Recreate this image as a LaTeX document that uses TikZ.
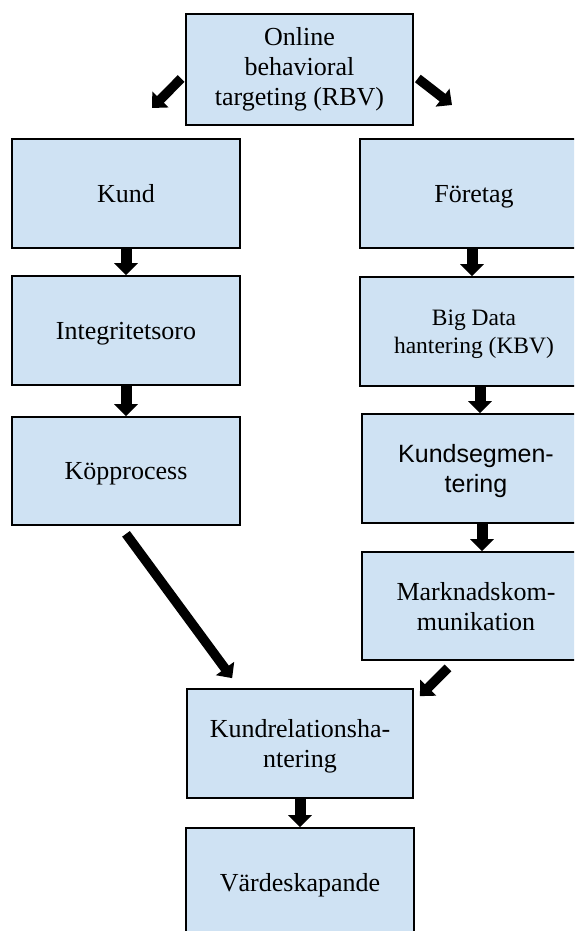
\documentclass[tikz,border=0pt]{standalone}
\usepackage{fontspec}
\setmainfont{Liberation Serif}
\newfontfamily\arialfont{Liberation Sans}
\usetikzlibrary{arrows.meta}
\definecolor{boxblue}{RGB}{207,226,243}

\tikzset{every picture/.style={line width=1.7pt}}
\tikzset{
  flowbox/.style={draw=black, fill=boxblue, minimum width=228pt, minimum height=109pt,
    inner sep=0pt, text depth=-8pt, align=center, font=\fontsize{26}{30}\selectfont},
  fatarrow/.style={line width=11pt, -{Triangle[width=23pt,length=12pt]}},
  thinfatarrow/.style={line width=9.5pt, -{Triangle[width=22pt,length=12pt]}},
}

\begin{document}
\begin{tikzpicture}[x=1pt,y=1pt,yscale=-1]
\useasboundingbox (0,0) rectangle (574,931);
\clip (0,0) rectangle (574,931);

% Boxes
\node[flowbox, minimum width=227pt, minimum height=111pt, text depth=6pt] (online) at (299.5,69.5) {Online\\behavioral\\targeting (RBV)};
\node[flowbox] (kund) at (126,193.5) {Kund};
\node[flowbox] (integ) at (126,330.5) {Integritetsoro};
\node[flowbox, minimum height=108pt] (kopp) at (126,471) {Köpprocess};
\node[flowbox] (foretag) at (474,193.5) {Företag};
\node[flowbox, font=\fontsize{23.5}{28}\selectfont] (bigdata) at (474,331.5) {Big Data\\hantering (KBV)};
\node[flowbox, font=\arialfont\fontsize{25}{30}\selectfont] (kundseg) at (476,468.5) {Kundsegmen-\\tering};
\node[flowbox, minimum height=108pt] (marknad) at (476,606) {Marknadskom-\\munikation};
\node[flowbox, minimum width=226pt] (kundrel) at (300,743.5) {Kundrelationsha-\\ntering};
\node[flowbox] (varde) at (300,882.5) {Värdeskapande};

% Free ends of the top arrows
\coordinate (kundin) at (152,108);
\coordinate (foretagin) at (452,105);

% Arrows
\draw[thinfatarrow] ([shift={(-4,9)}]online.west) -- (kundin);
\draw[thinfatarrow] ([shift={(4,9)}]online.east) -- (foretagin);
\draw[fatarrow] (kund) -- (integ);
\draw[fatarrow] (integ) -- (kopp);
\draw[fatarrow] ([xshift=-2pt]foretag.south) -- ([xshift=-2pt]bigdata.north);
\draw[fatarrow] ([xshift=6pt]bigdata.south) -- ([xshift=4pt]kundseg.north);
\draw[fatarrow] ([xshift=6pt]kundseg.south) -- ([xshift=6pt]marknad.north);
\draw[thinfatarrow] ([yshift=8pt]kopp.south) -- ([shift={(46,-10)}]kundrel.north west);
\draw[thinfatarrow] ([shift={(-28,7)}]marknad.south) -- ([shift={(6,8)}]kundrel.north east);
\draw[fatarrow] (kundrel) -- (varde);

\end{tikzpicture}
\end{document}
